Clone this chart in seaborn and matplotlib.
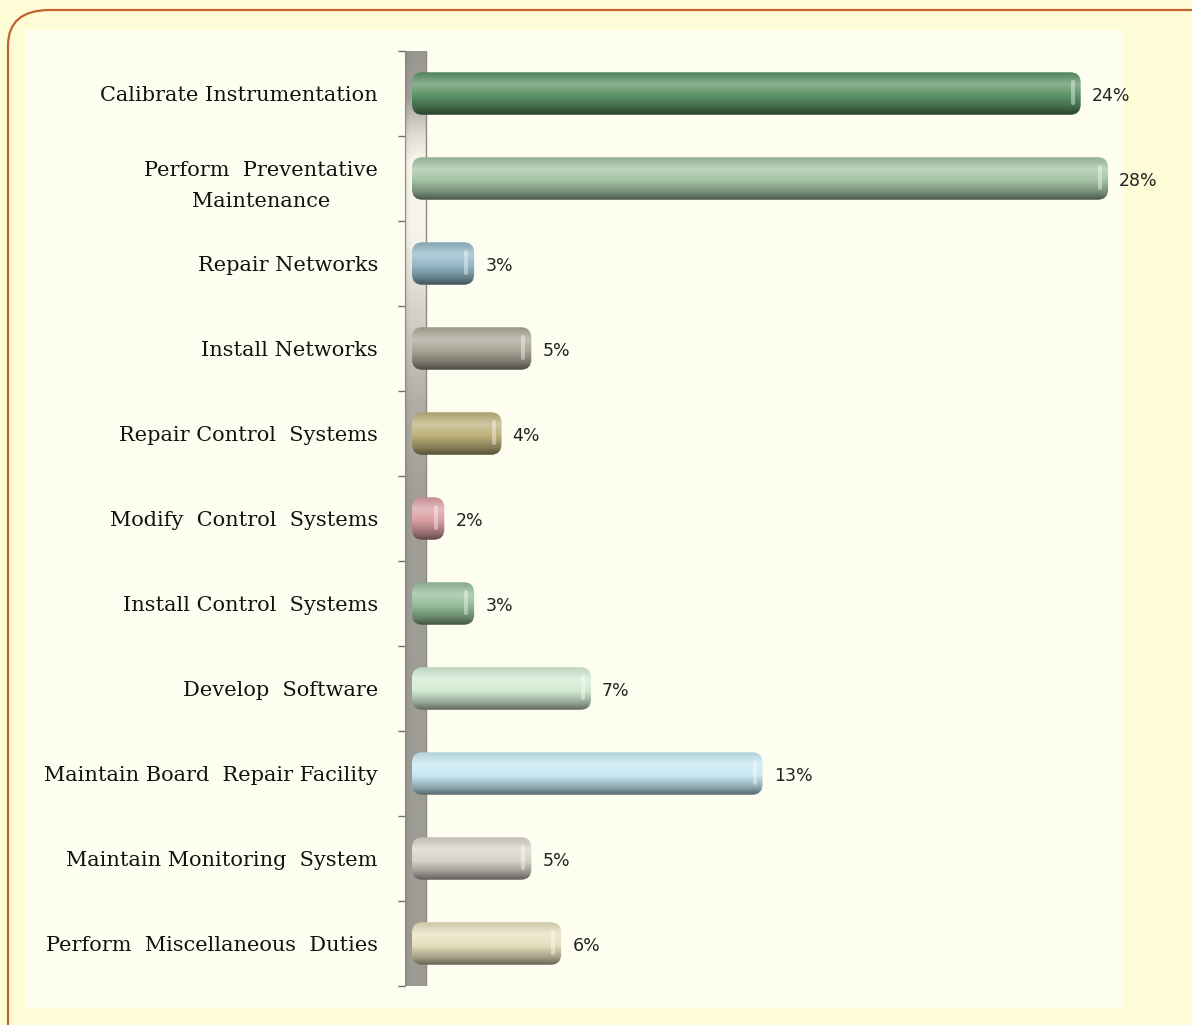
import numpy as np
import pandas as pd
import seaborn as sns
import matplotlib.pyplot as plt
from matplotlib.patches import FancyBboxPatch, Rectangle
from matplotlib.colors import to_rgb

# Task categories, top to bottom
tasks = [
    'Calibrate Instrumentation',
    'Perform  Preventative\nMaintenance',
    'Repair Networks',
    'Install Networks',
    'Repair Control  Systems',
    'Modify  Control  Systems',
    'Install Control  Systems',
    'Develop  Software',
    'Maintain Board  Repair Facility',
    'Maintain Monitoring  System',
    'Perform  Miscellaneous  Duties',
]
# bar lengths as drawn in the picture (percent units)
bar_len = [26.9, 28.0, 2.5, 4.8, 3.6, 1.3, 2.5, 7.2, 14.1, 4.8, 6.0]
# labels printed at the bar ends
pct_labels = ['24%', '28%', '3%', '5%', '4%', '2%', '3%', '7%', '13%', '5%', '6%']
bar_colors = ['#5a9265', '#a3c3a4', '#93b8c8', '#a9a697', '#bdb07a', '#d99ea2',
              '#94bc98', '#d3ebd2', '#c6e8f3', '#d6d3c8', '#e6dfbc']

df = pd.DataFrame({'task': tasks, 'share': bar_len})

sns.set_style('white')
W, H = 1192, 1025
fig = plt.figure(figsize=(W / 100, H / 100), dpi=100)
fig.patch.set_facecolor('#fdfcd6')

# outer rounded frame and lighter plot area
frame = FancyBboxPatch((8 / W, -0.05), 1.2, 1 - 10 / H + 0.05,
                       boxstyle='round,pad=0,rounding_size=0.035',
                       transform=fig.transFigure, facecolor='#fdfcd6',
                       edgecolor='#c2622c', linewidth=1.6, zorder=-2)
fig.patches.append(frame)
fig.patches.append(Rectangle((25 / W, 1 - 1008 / H), (1124 - 25) / W, (1008 - 30) / H,
                             transform=fig.transFigure, facecolor='#fefef0',
                             edgecolor='none', zorder=-1))

k = 24.86  # px per percent unit
x0_px, ax_left, ax_right = 412, 400, 1124
ax = fig.add_axes([ax_left / W, (H - 986) / H, (ax_right - ax_left) / W, 935 / H])
ax.set_facecolor('none')

sns.barplot(data=df, x='share', y='task', hue='task', palette=bar_colors,
            legend=False, orient='h', width=0.5, ax=ax)

xmin = -(x0_px - ax_left) / k
xmax = (ax_right - x0_px) / k

# gray side wall with a light reflection near the top
wall_l, wall_r = (405 - x0_px) / k, (426 - x0_px) / k
pos = [0.0, 0.05, 0.09, 0.12, 0.20, 0.28, 0.38, 0.48, 1.0]
lum = [0.60, 0.64, 0.88, 0.99, 0.97, 0.84, 0.69, 0.63, 0.62]
yy = np.linspace(0, 1, 200)
g = np.interp(yy, pos, lum)
tint = np.array([1.0, 0.985, 0.945])
wall_img = np.clip(g[:, None, None] * tint[None, None, :], 0, 1)
xs = np.linspace(0, 1, 12)
edge = 1 - 0.10 * np.exp(-xs / 0.12)   # darker left edge
wall_img = wall_img * edge[None, :, None]
ax.imshow(wall_img, aspect='auto', extent=(wall_l, wall_r, 10.5, -0.52),
          interpolation='bilinear', zorder=1)
ax.plot([wall_r, wall_r], [-0.52, 10.5], color='#8c8a84', lw=1, zorder=1.1)

# cylinder-like shading for each bar
aspect = k / 85.0
t = np.linspace(0, 1, 64)
bars = [b for c in ax.containers for b in c if b is not None]
for patch, col in zip(bars, bar_colors):
    x, y, w, h = patch.get_x(), patch.get_y(), patch.get_width(), patch.get_height()
    patch.set_alpha(0)
    base = np.array(to_rgb(col))
    light = np.clip(base + (1 - base) * 0.3, 0, 1)
    dark = base * 0.45
    stops = [(0.0, base * 0.9), (0.28, light), (0.55, base), (0.82, base * 0.72), (1.0, dark)]
    grad = np.zeros((len(t), 1, 3))
    for i, tv in enumerate(t):
        for (a, ca), (b, cb) in zip(stops[:-1], stops[1:]):
            if a <= tv <= b:
                f = (tv - a) / (b - a)
                grad[i, 0] = ca * (1 - f) + cb * f
                break
    shape = FancyBboxPatch((x, y), w, h, boxstyle='round,pad=0,rounding_size=0.42',
                           mutation_aspect=aspect, facecolor='none',
                           edgecolor='none', zorder=2)
    ax.add_patch(shape)
    img = ax.imshow(grad, aspect='auto', extent=(x, x + w, y + h, y),
                    interpolation='bilinear', zorder=2)
    img.set_clip_path(shape)
    # soft specular streak near the rounded end
    hx = x + w - 0.32
    ax.plot([hx, hx], [y + h * 0.22, y + h * 0.72], color='white', alpha=0.4,
            lw=3, solid_capstyle='round', zorder=3)

ax.set_xlim(xmin, xmax)
ax.set_ylim(10.5, -0.5)

for patch, lab in zip(bars, pct_labels):
    ax.annotate(lab, (patch.get_x() + patch.get_width(), patch.get_y() + patch.get_height() / 2),
                xytext=(8, -1.5), textcoords='offset points', va='center', ha='left',
                fontsize=12.5, color='#222222', family='DejaVu Sans', zorder=4)

# axis styling
for s in ['top', 'right', 'bottom']:
    ax.spines[s].set_visible(False)
ax.spines['left'].set_position(('data', wall_l))
ax.spines['left'].set_color('#8c8a84')
ax.spines['left'].set_bounds(-0.5, 10.5)
ax.set_xticks([])
ax.set_yticks(np.arange(-0.5, 11, 1), minor=True)
ax.tick_params(axis='y', which='minor', left=True, direction='out', length=5,
               color='#6e6e6e', width=1)
ax.tick_params(axis='y', which='major', left=True, length=0, pad=19.5)
for lbl in ax.get_yticklabels():
    lbl.set_family('DejaVu Serif')
    lbl.set_fontsize(15)
    lbl.set_color('#111111')
    lbl.set_multialignment('center')
    lbl.set_linespacing(1.75)
ax.set_xlabel('')
ax.set_ylabel('')

fig.savefig('out.png', dpi=100, facecolor=fig.get_facecolor())
